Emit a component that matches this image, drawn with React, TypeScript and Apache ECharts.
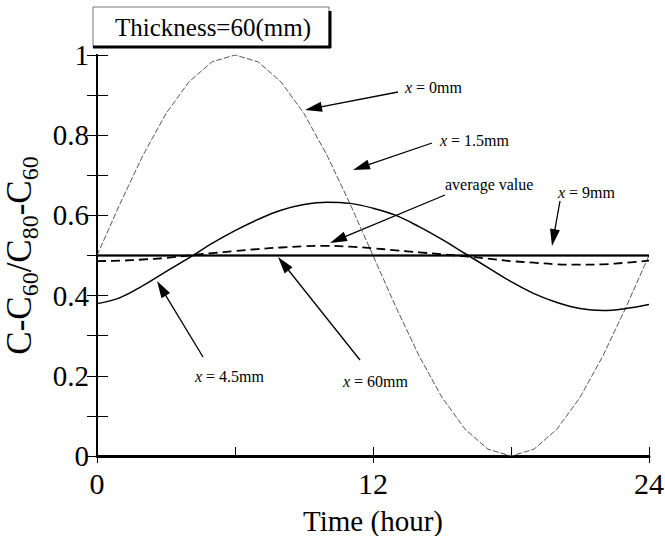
import React, { useEffect, useRef } from "react";
import * as echarts from "echarts";

// Hourly time axis (hours)
const hours = [0, 1, 2, 3, 4, 5, 6, 7, 8, 9, 10, 11, 12, 13, 14, 15, 16, 17, 18, 19, 20, 21, 22, 23, 24];

// Normalised concentration at each depth x
const surface0mm = [0.5, 0.629, 0.75, 0.854, 0.933, 0.983, 1.0, 0.983, 0.933, 0.854, 0.75, 0.629, 0.5, 0.371, 0.25, 0.146, 0.067, 0.017, 0.0, 0.017, 0.067, 0.146, 0.25, 0.371, 0.5];
const depth4_5mm = [0.38, 0.395, 0.425, 0.46, 0.494, 0.53, 0.562, 0.59, 0.613, 0.627, 0.633, 0.63, 0.618, 0.6, 0.572, 0.54, 0.505, 0.47, 0.435, 0.405, 0.383, 0.368, 0.363, 0.368, 0.378];
const averageValue = [0.486, 0.487, 0.49, 0.494, 0.5, 0.506, 0.511, 0.516, 0.52, 0.523, 0.524, 0.522, 0.518, 0.513, 0.508, 0.503, 0.498, 0.492, 0.486, 0.482, 0.478, 0.477, 0.478, 0.482, 0.487];
const depth9mm = [0.5, 0.5, 0.5, 0.5, 0.5, 0.5, 0.5, 0.5, 0.5, 0.5, 0.5, 0.5, 0.5, 0.5, 0.5, 0.5, 0.5, 0.5, 0.5, 0.5, 0.5, 0.5, 0.5, 0.5, 0.5];
const depth60mm = [0.5, 0.5, 0.5, 0.5, 0.5, 0.5, 0.5, 0.5, 0.5, 0.5, 0.5, 0.5, 0.5, 0.5, 0.5, 0.5, 0.5, 0.5, 0.5, 0.5, 0.5, 0.5, 0.5, 0.5, 0.5];

const xTickLabels = ["0", "12", "24"];
const yTickLabels = ["0", "0.2", "0.4", "0.6", "0.8", "1"];

const SERIF = "'Liberation Serif', 'Times New Roman', serif";

const pairs = (ys: number[]) => hours.map((h, i) => [h, ys[i]]);

// A straight leader line with a filled triangular head at (x2, y2)
function arrow(x1: number, y1: number, x2: number, y2: number) {
  const dx = x2 - x1;
  const dy = y2 - y1;
  const len = Math.hypot(dx, dy);
  const ux = dx / len;
  const uy = dy / len;
  const headLen = 17;
  const headW = 5;
  const bx = x2 - ux * headLen;
  const by = y2 - uy * headLen;
  return [
    {
      type: "line",
      shape: { x1, y1, x2: bx + ux * 2, y2: by + uy * 2 },
      style: { stroke: "#000", lineWidth: 1.3 },
    },
    {
      type: "polygon",
      shape: {
        points: [
          [x2, y2],
          [bx - uy * headW, by + ux * headW],
          [bx + uy * headW, by - ux * headW],
        ],
      },
      style: { fill: "#000" },
    },
  ];
}

function label(x: number, y: number, text: string) {
  return {
    type: "text",
    x,
    y,
    style: {
      text,
      fontFamily: SERIF,
      fontSize: 16,
      fill: "#000",
      verticalAlign: "middle",
      rich: {
        i: { fontStyle: "italic", fontFamily: SERIF, fontSize: 16 },
      },
    },
  };
}

export default function App() {
  const ref = useRef<HTMLDivElement>(null);

  useEffect(() => {
    if (!ref.current) return;
    const chart = echarts.init(ref.current, null, { renderer: "svg" });

    const option = {
      animation: false,
      backgroundColor: "#fff",
      grid: { left: 97, right: 16, top: 55, bottom: 80, containLabel: false, outerBoundsMode: "none" },
      xAxis: [
        {
          type: "value",
          min: 0,
          max: 24,
          interval: 6,
          name: "Time (hour)",
          nameLocation: "middle",
          nameGap: 50,
          nameTextStyle: { fontFamily: SERIF, fontSize: 29, color: "#000", verticalAlign: "top" },
          axisLine: { show: true, lineStyle: { color: "#000", width: 2 } },
          axisTick: { show: true, inside: true, length: 9, lineStyle: { color: "#000", width: 1 } },
          axisLabel: {
            fontFamily: SERIF,
            fontSize: 30,
            color: "#000",
            margin: 12,
            formatter: (v: number) => {
              const s = String(v);
              return xTickLabels.includes(s) ? s : "";
            },
          },
          splitLine: { show: false },
        },
        {
          type: "value",
          position: "top",
          min: 0,
          max: 24,
          interval: 12,
          axisLine: { show: true, lineStyle: { color: "#000", width: 3 } },
          axisTick: { show: true, inside: true, length: 7, lineStyle: { color: "#000", width: 1 } },
          axisLabel: { show: false },
          splitLine: { show: false },
        },
      ],
      yAxis: [
        {
          type: "value",
          min: 0,
          max: 1,
          interval: 0.2,
          name: "{m|C-C}{s|60}{m|/C}{s|80}{m|-C}{s|60}",
          nameLocation: "middle",
          nameGap: 51,
          nameRotate: 90,
          nameTextStyle: {
            color: "#000",
            rich: {
              m: { fontFamily: SERIF, fontSize: 35, lineHeight: 40, color: "#000", verticalAlign: "bottom" },
              s: { fontFamily: SERIF, fontSize: 24, lineHeight: 40, color: "#000", verticalAlign: "bottom", padding: [0, 0, -5, 0] },
            },
          },
          axisLine: { show: true, lineStyle: { color: "#000", width: 2 } },
          axisTick: { show: true, inside: true, length: 11, lineStyle: { color: "#000", width: 1 } },
          minorTick: { show: true, splitNumber: 2, length: 11, lineStyle: { color: "#000", width: 1 } },
          axisLabel: {
            fontFamily: SERIF,
            fontSize: 29,
            color: "#000",
            margin: 8,
            formatter: (v: number) => yTickLabels[Math.round(v / 0.2)] ?? "",
          },
          splitLine: { show: false },
        },
        {
          type: "value",
          position: "right",
          min: 0,
          max: 1,
          interval: 0.2,
          axisLine: { show: true, lineStyle: { color: "#000", width: 2 } },
          axisTick: { show: true, inside: true, length: 10, lineStyle: { color: "#000", width: 1 } },
          minorTick: { show: true, splitNumber: 2, length: 10, lineStyle: { color: "#000", width: 1 } },
          axisLabel: { show: false },
          splitLine: { show: false },
        },
      ],
      series: [
        {
          name: "x = 0mm",
          type: "line",
          data: pairs(surface0mm),
          showSymbol: false,
          smooth: false,
          lineStyle: { color: "#555", width: 1, type: [6, 2] },
          z: 2,
        },
        {
          name: "x = 4.5mm",
          type: "line",
          data: pairs(depth4_5mm),
          showSymbol: false,
          smooth: 0.4,
          lineStyle: { color: "#000", width: 1.5 },
          z: 3,
        },
        {
          name: "average value",
          type: "line",
          data: pairs(averageValue),
          showSymbol: false,
          smooth: 0.4,
          lineStyle: { color: "#000", width: 1.8, type: [9, 5] },
          z: 3,
        },
        {
          name: "x = 9mm",
          type: "line",
          data: pairs(depth9mm),
          showSymbol: false,
          lineStyle: { color: "#000", width: 2 },
          z: 4,
        },
        {
          name: "x = 60mm",
          type: "line",
          data: pairs(depth60mm),
          showSymbol: false,
          lineStyle: { color: "#000", width: 1.5 },
          z: 4,
        },
      ],
      graphic: [
        // Title box with a drop-shadow edge on the right and bottom
        {
          type: "rect",
          shape: { x: 93, y: 7, width: 236, height: 40 },
          style: { fill: "#fff", stroke: "#777", lineWidth: 1 },
        },
        { type: "line", shape: { x1: 93, y1: 47, x2: 331, y2: 47 }, style: { stroke: "#000", lineWidth: 3 } },
        { type: "line", shape: { x1: 330, y1: 11, x2: 330, y2: 48 }, style: { stroke: "#000", lineWidth: 3 } },
        {
          type: "text",
          x: 115,
          y: 27,
          style: {
            text: "Thickness=60(mm)",
            fontFamily: SERIF,
            fontSize: 25,
            fill: "#000",
            verticalAlign: "middle",
          },
        },
        // Curve annotations
        label(405, 87, "{i|x} = 0mm"),
        ...arrow(398, 92, 305, 110),
        label(440, 140, "{i|x} = 1.5mm"),
        ...arrow(432, 143, 353, 170),
        label(445, 184, "average value"),
        ...arrow(445, 195, 330, 243),
        label(558, 192, "{i|x} = 9mm"),
        ...arrow(560, 201, 552, 246),
        label(195, 376, "{i|x} = 4.5mm"),
        ...arrow(203, 357, 157, 281),
        label(343, 381, "{i|x} = 60mm"),
        ...arrow(360, 360, 278, 257),
      ],
    };

    chart.setOption(option as any);
    return () => chart.dispose();
  }, []);

  return (
    <div
      ref={ref}
      style={{ position: "fixed", left: 0, top: 0, width: 665, height: 536, background: "#fff" }}
    />
  );
}
